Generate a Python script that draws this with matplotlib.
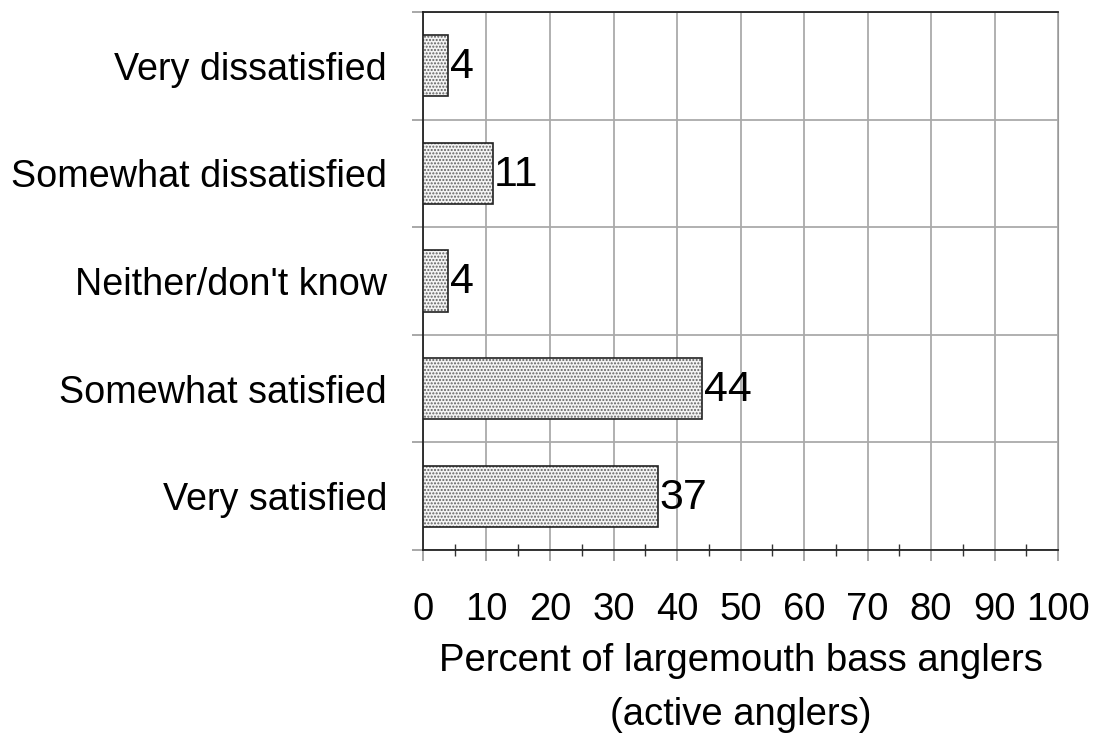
import matplotlib.pyplot as plt
from matplotlib.ticker import MultipleLocator, FixedLocator

plt.rcParams['font.family'] = ['Liberation Sans', 'DejaVu Sans']

categories = ['Very dissatisfied', 'Somewhat dissatisfied', "Neither/don't know",
              'Somewhat satisfied', 'Very satisfied']
values = [4, 11, 4, 44, 37]

fs = 27.2

fig = plt.figure(figsize=(10.93, 7.33), dpi=100)
ax = fig.add_axes([0.387, 0.2497, 0.581, 0.7339])

y = range(len(categories))
# fill with stipple, then outline on top
ax.barh(y, values, height=0.57, color='#f4f4f4', edgecolor='#606060',
        hatch='.....', linewidth=0, zorder=3)
ax.barh(y, values, height=0.57, fill=False, edgecolor='#222222',
        linewidth=1.2, zorder=4)

for i, v in enumerate(values):
    ax.annotate(str(v), xy=(v, i), xytext=(1, -1), textcoords='offset points',
                ha='left', va='center', fontsize=31, zorder=5)

ax.set_xlim(0, 100)
ax.set_ylim(len(categories) - 0.5, -0.5)

ax.set_yticks(list(y))
ax.set_yticklabels(categories, fontsize=fs)
ax.yaxis.set_minor_locator(FixedLocator([i - 0.5 for i in range(len(categories) + 1)]))
ax.tick_params(axis='y', which='major', length=0, pad=26)
ax.tick_params(axis='y', which='minor', length=8, color='#999999', width=1.2)

ax.xaxis.set_major_locator(MultipleLocator(10))
ax.xaxis.set_minor_locator(MultipleLocator(5))
ax.tick_params(axis='x', which='major', length=8, color='#999999', width=1.2,
               labelsize=27.5, pad=22)
ax.tick_params(axis='x', which='minor', direction='inout', length=9,
               color='#333333', width=1)

ax.grid(True, which='major', axis='x', color='#aaaaaa', linewidth=1.3, zorder=0)
ax.grid(True, which='minor', axis='y', color='#aaaaaa', linewidth=1.3, zorder=0)
ax.set_axisbelow(True)

for side in ['left', 'bottom', 'top']:
    ax.spines[side].set_color('#222222')
    ax.spines[side].set_linewidth(1.3)
ax.spines['right'].set_color('#999999')

ax.set_xlabel('Percent of largemouth bass anglers\n(active anglers)', fontsize=27.5,
              linespacing=1.65, labelpad=11)

plt.savefig('out.png', dpi=100)
